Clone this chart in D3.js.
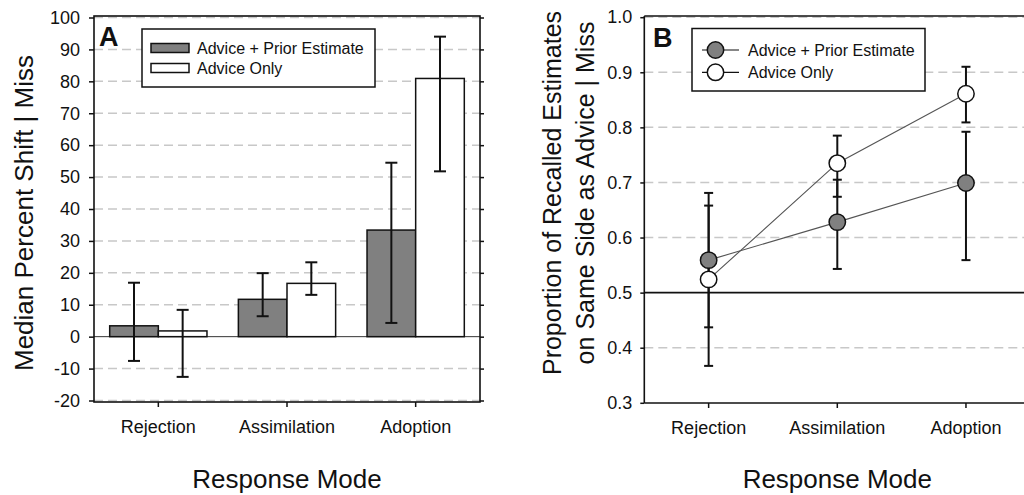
<!DOCTYPE html>
<html>
<head>
<meta charset="utf-8">
<script src="https://cdn.jsdelivr.net/npm/d3@7"></script>
<style>
  body { margin: 0; background: #fff; }
  svg { display: block; }
  text { font-family: "Liberation Sans", Arial, sans-serif; fill: #111; }
</style>
</head>
<body>
<svg id="fig" width="1024" height="495"></svg>
<script>
// ---- data ----
const categories = ["Rejection", "Assimilation", "Adoption"];
const seriesNames = ["Advice + Prior Estimate", "Advice Only"];

// Panel A: median percent shift | miss
const shiftPrior     = [3.4, 11.7, 33.4];
const shiftPriorLow  = [-7.6, 6.4, 4.3];
const shiftPriorHigh = [16.9, 19.9, 54.5];
const shiftOnly      = [1.8, 16.7, 80.9];
const shiftOnlyLow   = [-12.6, 13.1, 51.8];
const shiftOnlyHigh  = [8.4, 23.3, 94.0];
const shiftTicks = [-20, -10, 0, 10, 20, 30, 40, 50, 60, 70, 80, 90, 100];

// Panel B: proportion of recalled estimates on same side as advice | miss
const propPrior     = [0.559, 0.628, 0.699];
const propPriorLow  = [0.437, 0.543, 0.559];
const propPriorHigh = [0.681, 0.705, 0.792];
const propOnly      = [0.524, 0.735, 0.861];
const propOnlyLow   = [0.367, 0.674, 0.809];
const propOnlyHigh  = [0.658, 0.785, 0.910];
const propTicks = [0.3, 0.4, 0.5, 0.6, 0.7, 0.8, 0.9, 1.0];

const seriesFill = ["#808080", "#ffffff"];
const gridColor = "#c8c8c8";
const ink = "#111";

const svg = d3.select("#fig");

function styleAxis(g, fontSize) {
  g.select(".domain").remove();
  g.selectAll(".tick line").attr("stroke", ink).attr("stroke-width", 1.5);
  g.selectAll(".tick text").style("font-size", fontSize + "px").attr("fill", ink);
}

// ================= Panel A =================
{
  const left = 94, right = 480, top = 16, bottom = 402;
  const x0 = d3.scaleBand().domain(categories).range([left, right]).padding(0);
  const pairW = x0.bandwidth() * 0.756;
  const x1 = d3.scaleBand().domain(seriesNames).range([-pairW / 2, pairW / 2]).padding(0);
  const y = d3.scaleLinear().domain([-20, 100]).range([400.5, 17.5]);

  const g = svg.append("g");

  // gridlines
  g.append("g").selectAll("line")
    .data(shiftTicks.filter(v => v !== 0))
    .join("line")
    .attr("x1", left).attr("x2", right)
    .attr("y1", d => y(d)).attr("y2", d => y(d))
    .attr("stroke", gridColor).attr("stroke-width", 1.5)
    .attr("stroke-dasharray", "9,5");

  // zero line
  g.append("line")
    .attr("x1", left).attr("x2", right)
    .attr("y1", y(0)).attr("y2", y(0))
    .attr("stroke", "#333").attr("stroke-width", 1);

  const rows = categories.map((c, i) => ([
    { cat: c, s: seriesNames[0], v: shiftPrior[i], lo: shiftPriorLow[i], hi: shiftPriorHigh[i], k: 0 },
    { cat: c, s: seriesNames[1], v: shiftOnly[i], lo: shiftOnlyLow[i], hi: shiftOnlyHigh[i], k: 1 }
  ])).flat();

  const cx = d => x0(d.cat) + x0.bandwidth() / 2;

  // bars
  g.append("g").selectAll("rect")
    .data(rows)
    .join("rect")
    .attr("x", d => cx(d) + x1(d.s))
    .attr("width", x1.bandwidth())
    .attr("y", d => y(Math.max(0, d.v)))
    .attr("height", d => Math.abs(y(d.v) - y(0)))
    .attr("fill", d => seriesFill[d.k])
    .attr("stroke", ink).attr("stroke-width", 1.5);

  // error bars
  const capA = 6;
  const eb = g.append("g").attr("stroke", ink).attr("stroke-width", 2);
  rows.forEach(d => {
    const xm = cx(d) + x1(d.s) + x1.bandwidth() / 2;
    eb.append("line").attr("x1", xm).attr("x2", xm).attr("y1", y(d.lo)).attr("y2", y(d.hi));
    eb.append("line").attr("x1", xm - capA).attr("x2", xm + capA).attr("y1", y(d.lo)).attr("y2", y(d.lo));
    eb.append("line").attr("x1", xm - capA).attr("x2", xm + capA).attr("y1", y(d.hi)).attr("y2", y(d.hi));
  });

  // frame
  g.append("rect")
    .attr("x", left).attr("y", top)
    .attr("width", right - left).attr("height", bottom - top)
    .attr("fill", "none").attr("stroke", ink).attr("stroke-width", 1.6);

  // axes (plain hyphen for negative labels)
  g.append("g").attr("transform", `translate(${left},0)`)
    .call(d3.axisLeft(y).tickValues(shiftTicks).tickSize(5).tickPadding(9).tickFormat(d => String(d)))
    .call(a => styleAxis(a, 18));
  g.append("g").attr("transform", `translate(${right},0)`)
    .call(d3.axisRight(y).tickValues(shiftTicks).tickSize(4).tickFormat(""))
    .call(a => styleAxis(a, 18));
  g.append("g").attr("transform", `translate(0,${bottom})`)
    .call(d3.axisBottom(x0).tickSize(5).tickPadding(13))
    .call(a => styleAxis(a, 18));

  // titles
  g.append("text")
    .attr("transform", `translate(33,${(top + bottom) / 2 + 4}) rotate(-90)`)
    .attr("text-anchor", "middle")
    .style("font-size", "26px")
    .text("Median Percent Shift | Miss");
  g.append("text")
    .attr("x", (left + right) / 2).attr("y", 488)
    .attr("text-anchor", "middle")
    .style("font-size", "26px")
    .text("Response Mode");

  // panel letter
  g.append("text").attr("x", 99).attr("y", 46)
    .style("font-size", "27px").style("font-weight", "bold")
    .text("A");

  // legend
  const lg = g.append("g");
  lg.append("rect").attr("x", 142).attr("y", 29).attr("width", 233).attr("height", 58)
    .attr("fill", "#fff").attr("stroke", ink).attr("stroke-width", 1.5);
  seriesNames.forEach((s, i) => {
    const yy = 48 + i * 20;
    lg.append("rect").attr("x", 151).attr("y", yy - 4.5).attr("width", 38).attr("height", 9)
      .attr("fill", seriesFill[i]).attr("stroke", ink).attr("stroke-width", 1.5);
    lg.append("text").attr("x", 197).attr("y", yy).attr("dy", "0.35em")
      .style("font-size", "16px").text(s);
  });
}

// ================= Panel B =================
{
  const left = 644.3, right = 1030.3, top = 16, bottom = 403;
  const x = d3.scaleBand().domain(categories).range([left, right]).padding(0);
  const y = d3.scaleLinear().domain([0.3, 1.0]).range([402.8, 17.2]);
  const cx = c => x(c) + x.bandwidth() / 2;

  const g = svg.append("g");

  // gridlines
  g.append("g").selectAll("line")
    .data(propTicks.filter(v => v !== 0.5 && v !== 0.3))
    .join("line")
    .attr("x1", left).attr("x2", right)
    .attr("y1", d => y(d)).attr("y2", d => y(d))
    .attr("stroke", gridColor).attr("stroke-width", 1.5)
    .attr("stroke-dasharray", "9,5");

  // chance line
  g.append("line")
    .attr("x1", left).attr("x2", right)
    .attr("y1", y(0.5)).attr("y2", y(0.5))
    .attr("stroke", ink).attr("stroke-width", 1.6);

  const series = [
    { k: 0, v: propPrior, lo: propPriorLow, hi: propPriorHigh },
    { k: 1, v: propOnly, lo: propOnlyLow, hi: propOnlyHigh }
  ];

  // connecting lines
  const line = d3.line().x((d, i) => cx(categories[i])).y(d => y(d));
  series.forEach(s => {
    g.append("path").attr("d", line(s.v))
      .attr("fill", "none").attr("stroke", "#555").attr("stroke-width", 1.1);
  });

  // error bars
  const capB = 4.5;
  const eb = g.append("g").attr("stroke", ink).attr("stroke-width", 2);
  series.forEach(s => {
    categories.forEach((c, i) => {
      const xm = cx(c);
      eb.append("line").attr("x1", xm).attr("x2", xm).attr("y1", y(s.lo[i])).attr("y2", y(s.hi[i]));
      eb.append("line").attr("x1", xm - capB).attr("x2", xm + capB).attr("y1", y(s.lo[i])).attr("y2", y(s.lo[i]));
      eb.append("line").attr("x1", xm - capB).attr("x2", xm + capB).attr("y1", y(s.hi[i])).attr("y2", y(s.hi[i]));
    });
  });

  // points
  series.forEach(s => {
    g.append("g").selectAll("circle")
      .data(s.v)
      .join("circle")
      .attr("cx", (d, i) => cx(categories[i]))
      .attr("cy", d => y(d))
      .attr("r", 8.2)
      .attr("fill", seriesFill[s.k])
      .attr("stroke", ink).attr("stroke-width", 1.5);
  });

  // frame: left, top, bottom
  g.append("line").attr("x1", left).attr("x2", left).attr("y1", top).attr("y2", bottom)
    .attr("stroke", ink).attr("stroke-width", 1.6);
  g.append("line").attr("x1", left).attr("x2", right).attr("y1", top).attr("y2", top)
    .attr("stroke", ink).attr("stroke-width", 1.6);
  g.append("line").attr("x1", left).attr("x2", right).attr("y1", bottom).attr("y2", bottom)
    .attr("stroke", ink).attr("stroke-width", 1.6);

  // axes
  g.append("g").attr("transform", `translate(${left},0)`)
    .call(d3.axisLeft(y).tickValues(propTicks).tickSize(4).tickPadding(8).tickFormat(d3.format(".1f")))
    .call(a => styleAxis(a, 18));
  g.append("g").attr("transform", `translate(0,${bottom})`)
    .call(d3.axisBottom(x).tickSize(5).tickPadding(13))
    .call(a => styleAxis(a, 18));

  // titles
  const t = g.append("text")
    .attr("transform", `translate(0,193) rotate(-90)`)
    .attr("text-anchor", "middle")
    .style("font-size", "25px");
  t.append("tspan").attr("x", 0).attr("y", 561).text("Proportion of Recalled Estimates");
  t.append("tspan").attr("x", 0).attr("y", 594).text("on Same Side as Advice | Miss");
  g.append("text")
    .attr("x", (left + right) / 2).attr("y", 488)
    .attr("text-anchor", "middle")
    .style("font-size", "26px")
    .text("Response Mode");

  // panel letter
  g.append("text").attr("x", 653).attr("y", 47)
    .style("font-size", "27px").style("font-weight", "bold")
    .text("B");

  // legend
  const lg = g.append("g");
  lg.append("rect").attr("x", 692).attr("y", 28.5).attr("width", 233).attr("height", 62.5)
    .attr("fill", "#fff").attr("stroke", ink).attr("stroke-width", 1.5);
  seriesNames.forEach((s, i) => {
    const yy = 50 + i * 22.3;
    lg.append("line").attr("x1", 702).attr("x2", 739).attr("y1", yy).attr("y2", yy)
      .attr("stroke", ink).attr("stroke-width", 1.2);
    lg.append("circle").attr("cx", 715.5).attr("cy", yy).attr("r", 8.2)
      .attr("fill", seriesFill[i]).attr("stroke", ink).attr("stroke-width", 1.5);
    lg.append("text").attr("x", 748).attr("y", yy).attr("dy", "0.35em")
      .style("font-size", "16px").text(s);
  });
}
</script>
</body>
</html>
